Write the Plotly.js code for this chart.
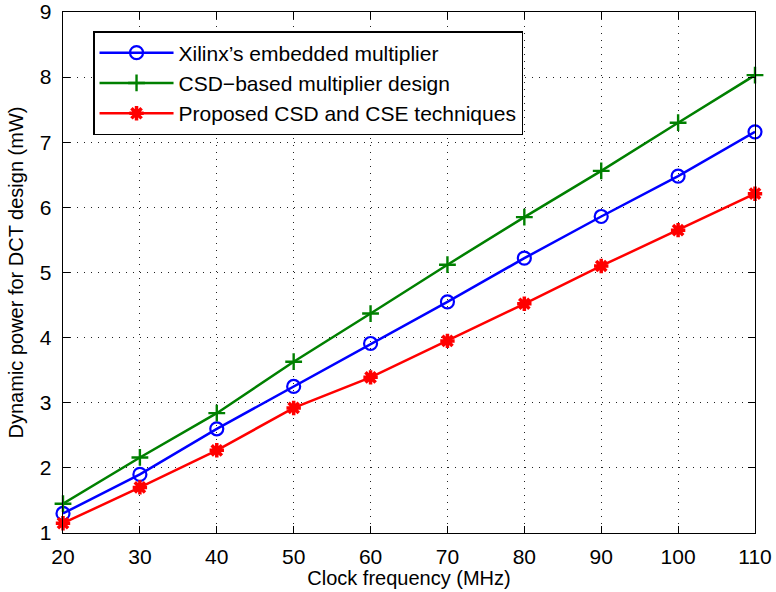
<!DOCTYPE html>
<html>
<head>
<meta charset="utf-8">
<script src="https://cdn.plot.ly/plotly-3.0.1.min.js"></script>
<style>html,body{margin:0;padding:0;background:#fff;}#chart{width:776px;height:592px;}</style>
</head>
<body>
<div id="chart"></div>
<script>
const freqs = [20, 30, 40, 50, 60, 70, 80, 90, 100, 110];
const xilinxPower = [1.30, 1.90, 2.60, 3.25, 3.91, 4.55, 5.22, 5.86, 6.48, 7.16];
const csdPower = [1.45, 2.16, 2.84, 3.63, 4.37, 5.12, 5.85, 6.56, 7.30, 8.03];
const proposedPower = [1.15, 1.70, 2.27, 2.92, 3.39, 3.95, 4.52, 5.10, 5.65, 6.21];
const seriesNames = ["Xilinx\u2019s embedded multiplier", "CSD\u2212based multiplier design", "Proposed CSD and CSE techniques"];
const xTicks = [20, 30, 40, 50, 60, 70, 80, 90, 100, 110];
const yTicks = [1, 2, 3, 4, 5, 6, 7, 8, 9];

const font = "Liberation Sans, Arial, Helvetica, sans-serif";

const traces = [
  {x: freqs, y: xilinxPower, name: seriesNames[0], mode: "lines+markers", cliponaxis: false,
   line: {color: "#0000ff", width: 2.5},
   marker: {symbol: "circle-open", size: 13, color: "#0000ff", line: {width: 2.2, color: "#0000ff"}}},
  {x: freqs, y: csdPower, name: seriesNames[1], mode: "lines+markers", cliponaxis: false,
   line: {color: "#008000", width: 2.5},
   marker: {symbol: "cross-thin-open", size: 12, color: "#008000", line: {width: 2.4, color: "#008000"}}},
  {x: freqs, y: proposedPower, name: seriesNames[2], mode: "lines+markers", cliponaxis: false,
   line: {color: "#ff0000", width: 2.5},
   marker: {symbol: "asterisk-open", size: 12, color: "#ff0000", line: {width: 3.5, color: "#ff0000"}}}
];

const axisCommon = {
  showline: true, linecolor: "#000", linewidth: 1.3, mirror: "ticks",
  ticks: "inside", ticklen: 7, tickwidth: 1, tickcolor: "#000",
  showgrid: true, gridcolor: "#222", griddash: "1px,6px", gridwidth: 1,
  zeroline: false, tickfont: {family: font, size: 21, color: "#000"}
};

const layout = {
  width: 776, height: 592,
  margin: {l: 63, r: 21, t: 12, b: 59},
  paper_bgcolor: "#fff", plot_bgcolor: "#fff",
  font: {family: font, color: "#000"},
  showlegend: true,
  xaxis: Object.assign({}, axisCommon, {
    range: [20, 110], tickvals: xTicks, ticktext: xTicks.map(String),
    ticklabelstandoff: 4,
    title: {text: "Clock frequency (MHz)", font: {family: font, size: 20}, standoff: 2}
  }),
  yaxis: Object.assign({}, axisCommon, {
    range: [1, 9], tickvals: yTicks, ticktext: yTicks.map(String),
    ticklabelstandoff: 6,
    title: {text: "Dynamic power for DCT design (mW)", font: {family: font, size: 20}, standoff: 10}
  }),
  legend: {
    x: 0.0434, y: 0.9635, xanchor: "left", yanchor: "top",
    bgcolor: "#fff", bordercolor: "#000", borderwidth: 1.5,
    font: {family: font, size: 21, color: "#000"},
    itemwidth: 74
  }
};

Plotly.newPlot("chart", traces, layout, {displayModeBar: false, staticPlot: true});
</script>
</body>
</html>
